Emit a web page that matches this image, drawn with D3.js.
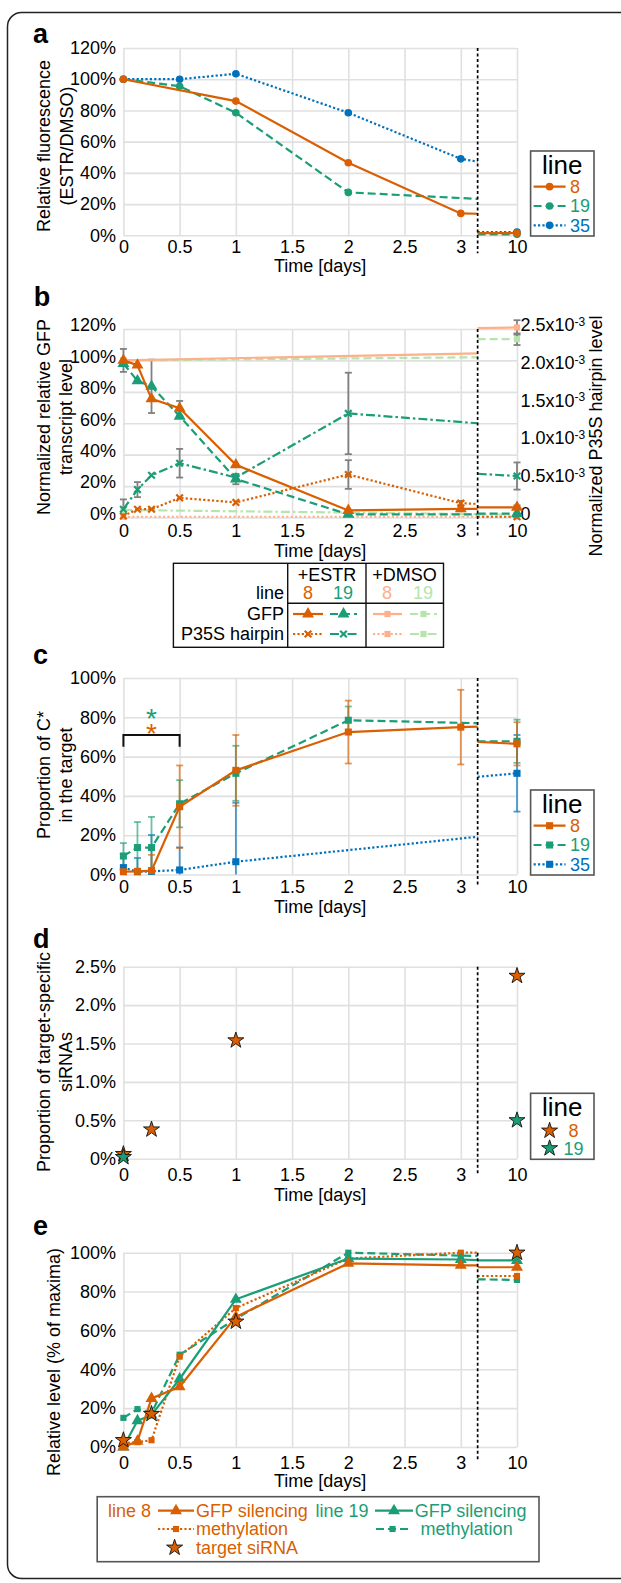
<!DOCTYPE html>
<html>
<head>
<meta charset="utf-8">
<script src="https://cdn.jsdelivr.net/npm/d3@7"></script>
<style>
body { margin: 0; background: #fff; }
svg { display: block; font-family: "Liberation Sans", Arial, sans-serif; }
</style>
</head>
<body>
<script>
const orange = "#d95f02", green = "#1b9e77", blue = "#0072bd";
const lightOrange = "#fdb08a", lightGreen = "#b5e5ad", errGrey = "#808080";
const gridColor = "#e0e0e0";

// shared time axis (day 10 sits after an axis break)
const xTickDays = [0, 0.5, 1, 1.5, 2, 2.5, 3, 10];
const BREAK = 3.15;

// a: relative fluorescence, %
const aDays = [0, 0.5, 1, 2, 3, 10];
const aLine8 = [100, null, 86, 46.5, 14, 1.4];
const aLine19 = [100, 95.5, 78.5, 27.5, null, 0.6];
const aLine35 = [100, 100, 103.5, 78.5, 49, 2];
const aBreak8 = [13.8, 1.4], aBreak19 = [23.3, 0.6], aBreak35 = [47.2, 2];

// b: GFP transcript (%) and P35S hairpin (x10^-3)
const bDays = [0, 0.125, 0.25, 0.5, 1, 2, 3, 10];
const bGfp8 = [100, 97, 75.5, 69.5, 33.5, 4.5, 5.5, 6.5];
const bGfp8Err = [7.3, 0, 0, 4.7, 0, 0, 0, 1.2];
const bGfp19 = [98, 87, 83.5, 64.5, 24.5, 2, null, 2.5];
const bGfp19Err = [0, 0, 17, 0, 3.3, 0, 0, 0];
const bHp8 = [0.02, 0.11, 0.11, 0.26, 0.2, 0.57, 0.19, 0.01];
const bHp8Err = [0, 0, 0, 0, 0, 0.19, 0.03, 0];
const bHp19 = [0.11, 0.37, 0.56, 0.72, 0.53, 1.38, null, 0.55];
const bHp19Err = [0.13, 0.1, 0, 0.19, 0, 0.54, 0, 0.18];
const bBreakGfp8 = [5.5, 6.5], bBreakGfp19 = [2, 2.5], bBreakHp8 = [0.18, 0.01], bBreakHp19 = [1.25, 0.58];
const bDmsoDays = [0, 10];
const bGfp8D = [100, 121], bGfp8DErr = [0, 4.6];
const bGfp19D = [100, 113.5], bGfp19DErr = [0, 3.7];
const bHp8D = [0.01, 0.01];
const bHp19D = [0.1, 0.04];
const bBreakGfp8D = [104.5, 120.5], bBreakGfp19D = [102, 113.5], bBreakHp8D = [0.01, 0.01], bBreakHp19D = [0.045, 0.04];

// c: proportion of C* in the target, %
const cDays = [0, 0.125, 0.25, 0.5, 1, 2, 3, 10];
const c8 = [1.4, 1.6, 2, 34.5, 53, 72.5, 75, 66.5];
const c8Err = [1, 0, 8, 21, 18, 16, 19, 11];
const c19 = [9.4, 13.7, 13.7, 36, 51.5, 78.5, null, 67.8];
const c19Err = [6.6, 13, 15.6, 12, 14, 7, 0, 11];
const c35 = [3.5, 1.4, 1.6, 2.3, 6.5, null, null, 51.5];
const c35Err = [7, 7, 18.5, 11.5, 30, 0, 0, 19.5];
const cBreak8 = [75.3, 67.5], cBreak19 = [77, 67.8], cBreak35 = [19.2, 49.7];

// d: target-specific siRNAs, %
const dDays8 = [0, 0.25, 1, 10], d8 = [0.06, 0.38, 1.54, 2.38];
const dDays19 = [0, 10], d19 = [0.02, 0.5];

// e: relative level, % of maxima
const eDays = [0, 0.125, 0.25, 0.5, 1, 2, 3, 10];
const eGfp8 = [0, 3, 25, 31, 67, 94.5, 93.5, 92.5];
const eGfp19 = [0, 13.5, 16.5, 35, 76, 97, 96.5, 96];
const eMet8 = [2, 2.5, 3.5, 46.5, 71.5, 97, 100, 88];
const eMet19 = [15, 19.5, 17.5, 47.5, 66, 100, 98.5, 86];
const eBreakGfp8 = [93.5, 92.5], eBreakGfp19 = [96.2, 96], eBreakMet8 = [100, 88], eBreakMet19 = [98.3, 86.3];
const eSiDays = [0, 0.25, 1, 10], eSi8 = [3.5, 17, 64.5, 100];

const svg = d3.select("body").append("svg").attr("width", 621).attr("height", 1583);

svg.append("rect")
	.attr("x", 7.5).attr("y", 12.5)
	.attr("width", 660).attr("height", 1566)
	.attr("rx", 14)
	.attr("fill", "none").attr("stroke", "#222").attr("stroke-width", 1.5);

const x = d3.scaleLinear().domain([0, 3.5]).range([123.4, 517]);
const dayPos = d => (d === 10 ? 3.5 : d);

function markerPath(shape) {
	if (shape === "circle") return d3.symbol(d3.symbolCircle, 46)();
	if (shape === "triangle") return d3.symbol(d3.symbolTriangle, 62)();
	if (shape === "square") return d3.symbol(d3.symbolSquare, 50)();
	if (shape === "smallsquare") return d3.symbol(d3.symbolSquare, 38)();
	if (shape === "star") return d3.symbol(d3.symbolStar, 80)();
	if (shape === "x") return "M-3.3,-3.3L3.3,3.3M-3.3,3.3L3.3,-3.3";
}

function addMarker(g, cx, cy, shape, color) {
	const p = g.append("path").attr("d", markerPath(shape)).attr("transform", `translate(${cx},${cy})`);
	if (shape === "x") p.attr("fill", "none").attr("stroke", color).attr("stroke-width", 2.2);
	else if (shape === "star") p.attr("fill", color).attr("stroke", "#111").attr("stroke-width", 0.9);
	else p.attr("fill", color);
	return p;
}

function setupPanel(p) {
	const y = d3.scaleLinear().domain([0, p.ymax]).range([p.bottom, p.top]);
	const g = svg.append("g");
	g.append("g")
		.attr("transform", `translate(0,${p.bottom})`)
		.call(d3.axisBottom(x)
			.tickValues(xTickDays.map(dayPos))
			.tickSize(-(p.bottom - p.top))
			.tickPadding(p.xPad)
			.tickFormat(v => (v === 3.5 ? "10" : String(v))))
		.call(s => {
			s.attr("font-family", null).attr("font-size", 18);
			s.select(".domain").remove();
			s.selectAll("line").attr("stroke", gridColor).attr("stroke-width", 1.6);
			s.selectAll("text").attr("fill", "#000");
		});
	g.append("g")
		.attr("transform", `translate(${x(0)},0)`)
		.call(d3.axisLeft(y)
			.tickValues(p.yTicks)
			.tickSize(-(x(3.5) - x(0)))
			.tickPadding(7.4)
			.tickFormat(p.yFormat))
		.call(s => {
			s.attr("font-family", null).attr("font-size", 18);
			s.select(".domain").remove();
			s.selectAll("line").attr("stroke", gridColor).attr("stroke-width", 1.6);
			s.selectAll("text").attr("fill", "#000").attr("dy", p.yLabelDy || "0.32em");
		});
	g.append("text")
		.attr("x", (x(0) + x(3.5)) / 2).attr("y", p.bottom + p.titleDy)
		.attr("dy", "0.35em").attr("text-anchor", "middle").attr("font-size", 18)
		.text("Time [days]");
	p.yTitle.forEach((t, i) => {
		g.append("text")
			.attr("transform", `translate(${p.yTitleX[i]},${p.yTitleCy}) rotate(-90)`)
			.attr("dy", "0.35em").attr("text-anchor", "middle").attr("font-size", 18)
			.text(t);
	});
	g.append("text")
		.attr("x", p.labelX).attr("y", p.labelY)
		.attr("font-size", 27).attr("font-weight", "bold")
		.text(p.label);
	return { g, y, p };
}

function drawBreak(panel) {
	panel.g.append("line")
		.attr("x1", x(BREAK)).attr("x2", x(BREAK))
		.attr("y1", panel.p.top).attr("y2", panel.p.bottom + panel.p.brkExt)
		.attr("stroke", "#000").attr("stroke-width", 1.7).attr("stroke-dasharray", "3,2.5");
}

function drawErr(g, y, days, vals, err, color, opacity) {
	days.forEach((d, i) => {
		if (vals[i] == null || !err[i]) return;
		const cx = x(dayPos(d));
		const lo = y(Math.max(0, vals[i] - err[i])), hi = y(vals[i] + err[i]);
		const e = g.append("g").attr("stroke", color).attr("stroke-opacity", opacity).attr("stroke-width", 1.8);
		e.append("line").attr("x1", cx).attr("x2", cx).attr("y1", lo).attr("y2", hi);
		e.append("line").attr("x1", cx - 3.5).attr("x2", cx + 3.5).attr("y1", hi).attr("y2", hi);
		if (vals[i] - err[i] > 0) e.append("line").attr("x1", cx - 3.5).attr("x2", cx + 3.5).attr("y1", lo).attr("y2", lo);
	});
}

function drawSeries(g, y, days, vals, brk, color, dash, marker) {
	const pts = days.map((d, i) => [d, vals[i]]).filter(q => q[1] != null);
	const line = d3.line().x(q => x(dayPos(q[0]))).y(q => y(q[1]));
	const left = pts.filter(q => q[0] <= 3).concat([[BREAK, brk[0]]]);
	const right = [[BREAK, brk[1]]].concat(pts.filter(q => q[0] === 10));
	[left, right].forEach(seg => {
		g.append("path").attr("d", line(seg))
			.attr("fill", "none").attr("stroke", color).attr("stroke-width", 2.2)
			.attr("stroke-dasharray", dash);
	});
	pts.forEach(q => addMarker(g, x(dayPos(q[0])), y(q[1]), marker, color));
}

const SOLID = null, DASH = "8,4", DOT = "2.2,2.2", DASHDOT = "9,3,2.5,3";

function lineLegend(top, labels, colors, dashes, marker) {
	const lx = 530.6, w = 63.4, h = labels.length === 3 ? 85 : 66;
	const g = svg.append("g");
	g.append("rect").attr("x", lx).attr("y", top).attr("width", w).attr("height", h)
		.attr("fill", "#fff").attr("stroke", "#555").attr("stroke-width", 1.6);
	g.append("text").attr("x", lx + w / 2).attr("y", top + 23)
		.attr("text-anchor", "middle").attr("font-size", 26).text("line");
	labels.forEach((t, i) => {
		const cy = top + (marker === "star" ? 37.4 : 35.7) + i * (marker === "star" ? 17.6 : 19.3);
		if (marker !== "star") {
			g.append("line").attr("x1", lx + 3).attr("x2", lx + 35).attr("y1", cy).attr("y2", cy)
				.attr("stroke", colors[i]).attr("stroke-width", 2.2).attr("stroke-dasharray", dashes[i]);
			addMarker(g, lx + 19, cy, marker, colors[i]);
			g.append("text").attr("x", lx + 39.5).attr("y", cy).attr("dy", "0.35em")
				.attr("font-size", 18).attr("fill", colors[i]).text(t);
		} else {
			addMarker(g, lx + 19, cy, marker, colors[i]);
			g.append("text").attr("x", lx + 43).attr("y", cy).attr("dy", "0.35em")
				.attr("text-anchor", "middle").attr("font-size", 18).attr("fill", colors[i]).text(t);
		}
	});
}

const pctFmt = v => v + "%";

// ---------- a ----------
const pa = setupPanel({
	top: 48, bottom: 235.3, ymax: 120, yTicks: [0, 20, 40, 60, 80, 100, 120], yFormat: pctFmt,
	xPad: 4.5, titleDy: 30, brkExt: 18,
	yTitle: ["Relative fluorescence", "(ESTR/DMSO)"], yTitleX: [43.6, 67], yTitleCy: 146,
	label: "a", labelX: 33, labelY: 43
});
drawSeries(pa.g, pa.y, aDays, aLine35, aBreak35, blue, DOT, "circle");
drawSeries(pa.g, pa.y, aDays, aLine19, aBreak19, green, DASH, "circle");
drawSeries(pa.g, pa.y, aDays, aLine8, aBreak8, orange, SOLID, "circle");
drawBreak(pa);
lineLegend(151, ["8", "19", "35"], [orange, green, blue], [SOLID, DASH, DOT], "circle");

// ---------- b ----------
const pb = setupPanel({
	top: 329, bottom: 517.5, ymax: 120, yTicks: [0, 20, 40, 60, 80, 100, 120], yFormat: pctFmt,
	yLabelDy: "0.1em",
	xPad: 7, titleDy: 33, brkExt: 20,
	yTitle: ["Normalized relative GFP", "transcript level"], yTitleX: [43.6, 65.5], yTitleCy: 417,
	label: "b", labelX: 33.7, labelY: 306
});
const yR = d3.scaleLinear().domain([0, 2.5]).range([pb.p.bottom, pb.p.top]);
pb.g.append("g")
	.attr("transform", `translate(${x(3.5)},0)`)
	.call(d3.axisRight(yR).tickValues([0, 0.5, 1, 1.5, 2, 2.5]).tickSize(0).tickPadding(3.5).tickFormat(() => ""))
	.call(s => {
		s.attr("font-family", null).attr("font-size", 18);
		s.select(".domain").remove();
		s.selectAll(".tick text").each(function (v) {
			const t = d3.select(this).attr("fill", "#000").attr("dy", "0.1em");
			if (v === 0) { t.text("0"); return; }
			t.append("tspan").text(v.toFixed(1) + "x10");
			t.append("tspan").attr("dy", "-0.45em").attr("font-size", 12).text("-3");
		});
	});
pb.g.append("text")
	.attr("transform", `translate(596,436) rotate(-90)`)
	.attr("dy", "0.35em").attr("text-anchor", "middle").attr("font-size", 18)
	.text("Normalized P35S hairpin level");

drawErr(pb.g, pb.y, bDays, bGfp8, bGfp8Err, errGrey, 1);
drawErr(pb.g, pb.y, bDays, bGfp19, bGfp19Err, errGrey, 1);
drawErr(pb.g, yR, bDays, bHp8, bHp8Err, errGrey, 1);
drawErr(pb.g, yR, bDays, bHp19, bHp19Err, errGrey, 1);
drawErr(pb.g, pb.y, bDmsoDays, bGfp8D, bGfp8DErr, errGrey, 1);
drawErr(pb.g, pb.y, bDmsoDays, bGfp19D, bGfp19DErr, errGrey, 1);
drawSeries(pb.g, yR, bDmsoDays, bHp8D, bBreakHp8D, lightOrange, DOT, "smallsquare");
drawSeries(pb.g, yR, bDmsoDays, bHp19D, bBreakHp19D, lightGreen, DASHDOT, "smallsquare");
drawSeries(pb.g, pb.y, bDmsoDays, bGfp19D, bBreakGfp19D, lightGreen, DASH, "smallsquare");
drawSeries(pb.g, pb.y, bDmsoDays, bGfp8D, bBreakGfp8D, lightOrange, SOLID, "smallsquare");
drawSeries(pb.g, yR, bDays, bHp8, bBreakHp8, orange, DOT, "x");
drawSeries(pb.g, yR, bDays, bHp19, bBreakHp19, green, DASHDOT, "x");
drawSeries(pb.g, pb.y, bDays, bGfp19, bBreakGfp19, green, DASH, "triangle");
drawSeries(pb.g, pb.y, bDays, bGfp8, bBreakGfp8, orange, SOLID, "triangle");
drawBreak(pb);

// legend table for b
(function () {
	const g = svg.append("g");
	const L = 173.4, R = 443.5, T = 563.3, B = 647.3, c1 = 287.7, c2 = 366, mid = 603.3;
	g.append("rect").attr("x", L).attr("y", T).attr("width", R - L).attr("height", B - T)
		.attr("fill", "#fff").attr("stroke", "#111").attr("stroke-width", 1.4);
	[c1, c2].forEach(cx => g.append("line").attr("x1", cx).attr("x2", cx).attr("y1", T).attr("y2", B)
		.attr("stroke", "#111").attr("stroke-width", 1.4));
	g.append("line").attr("x1", c1).attr("x2", R).attr("y1", mid).attr("y2", mid)
		.attr("stroke", "#111").attr("stroke-width", 1.4);
	const txt = (tx, ty, s, color, anchor) => g.append("text").attr("x", tx).attr("y", ty)
		.attr("dy", "0.35em").attr("font-size", 18).attr("fill", color || "#000")
		.attr("text-anchor", anchor || "middle").text(s);
	txt(327, 575, "+ESTR");
	txt(404.5, 575, "+DMSO");
	txt(284, 593, "line", null, "end");
	txt(308, 593, "8", orange);
	txt(343, 593, "19", green);
	txt(387, 593, "8", lightOrange);
	txt(423, 593, "19", lightGreen);
	txt(284, 613.5, "GFP", null, "end");
	txt(284, 633.5, "P35S hairpin", null, "end");
	const sample = (x1, x2, cy, color, dash, marker) => {
		g.append("line").attr("x1", x1).attr("x2", x2).attr("y1", cy).attr("y2", cy)
			.attr("stroke", color).attr("stroke-width", 2.2).attr("stroke-dasharray", dash);
		addMarker(g, (x1 + x2) / 2, cy, marker, color);
	};
	sample(293, 323, 614, orange, SOLID, "triangle");
	sample(330, 357, 614, green, DASH, "triangle");
	sample(373, 402, 614, lightOrange, SOLID, "smallsquare");
	sample(410, 437, 614, lightGreen, DASH, "smallsquare");
	sample(293, 323, 634, orange, DOT, "x");
	sample(330, 357, 634, green, DASHDOT, "x");
	sample(373, 402, 634, lightOrange, DOT, "smallsquare");
	sample(410, 437, 634, lightGreen, DASHDOT, "smallsquare");
})();

// ---------- c ----------
const pc = setupPanel({
	top: 678, bottom: 874.5, ymax: 100, yTicks: [0, 20, 40, 60, 80, 100], yFormat: pctFmt,
	xPad: 5.5, titleDy: 32, brkExt: 12,
	yTitle: ["Proportion of C*", "in the target"], yTitleX: [43.6, 65.5], yTitleCy: 775,
	label: "c", labelX: 33, labelY: 664
});
drawErr(pc.g, pc.y, cDays, c35, c35Err, blue, 0.7);
drawErr(pc.g, pc.y, cDays, c19, c19Err, green, 0.65);
drawErr(pc.g, pc.y, cDays, c8, c8Err, orange, 0.65);
drawSeries(pc.g, pc.y, cDays, c35, cBreak35, blue, DOT, "square");
drawSeries(pc.g, pc.y, cDays, c19, cBreak19, green, DASH, "square");
drawSeries(pc.g, pc.y, cDays, c8, cBreak8, orange, SOLID, "square");
drawBreak(pc);
pc.g.append("path")
	.attr("d", `M${x(0)},746.7V735H${x(0.5)}V746.7`)
	.attr("fill", "none").attr("stroke", "#111").attr("stroke-width", 2);
// significance marks, one per line, stacked in a single text
const stars = pc.g.append("text").attr("text-anchor", "middle").attr("font-size", 28);
stars.append("tspan").attr("x", x(0.25)).attr("y", 728).attr("fill", green).text("*");
stars.append("tspan").attr("x", x(0.25)).attr("y", 743).attr("fill", orange).text("*");
lineLegend(790, ["8", "19", "35"], [orange, green, blue], [SOLID, DASH, DOT], "square");

// ---------- d ----------
const pd = setupPanel({
	top: 966.7, bottom: 1158.7, ymax: 2.5, yTicks: [0, 0.5, 1, 1.5, 2, 2.5],
	yFormat: v => (v === 0 ? "0%" : v.toFixed(1) + "%"),
	xPad: 9.5, titleDy: 35.5, brkExt: 15,
	yTitle: ["Proportion of target-specific", "siRNAs"], yTitleX: [43.6, 65.5], yTitleCy: 1062,
	label: "d", labelX: 33, labelY: 948
});
drawBreak(pd);
dDays8.forEach((d, i) => addMarker(pd.g, x(dayPos(d)), pd.y(d8[i]), "star", orange));
dDays19.forEach((d, i) => addMarker(pd.g, x(dayPos(d)), pd.y(d19[i]), "star", green));
lineLegend(1093.3, ["8", "19"], [orange, green], [null, null], "star");

// ---------- e ----------
const pe = setupPanel({
	top: 1252.7, bottom: 1447, ymax: 100, yTicks: [0, 20, 40, 60, 80, 100], yFormat: pctFmt,
	xPad: 9.5, titleDy: 34, brkExt: 13,
	yTitle: ["Relative level (% of maxima)"], yTitleX: [53.6], yTitleCy: 1362,
	label: "e", labelX: 33, labelY: 1235
});
drawSeries(pe.g, pe.y, eDays, eMet19, eBreakMet19, green, DASH, "smallsquare");
drawSeries(pe.g, pe.y, eDays, eMet8, eBreakMet8, orange, DOT, "smallsquare");
drawSeries(pe.g, pe.y, eDays, eGfp19, eBreakGfp19, green, SOLID, "triangle");
drawSeries(pe.g, pe.y, eDays, eGfp8, eBreakGfp8, orange, SOLID, "triangle");
eSiDays.forEach((d, i) => addMarker(pe.g, x(dayPos(d)), pe.y(eSi8[i]), "star", orange));
drawBreak(pe);

// legend for e
(function () {
	const g = svg.append("g");
	g.append("rect").attr("x", 97.2).attr("y", 1496.7).attr("width", 441.8).attr("height", 65)
		.attr("fill", "#fff").attr("stroke", "#555").attr("stroke-width", 1.6);
	const txt = (tx, ty, s, color) => g.append("text").attr("x", tx).attr("y", ty)
		.attr("dy", "0.35em").attr("font-size", 18).attr("fill", color).text(s);
	const sample = (x1, x2, cy, color, dash, marker) => {
		g.append("line").attr("x1", x1).attr("x2", x2).attr("y1", cy).attr("y2", cy)
			.attr("stroke", color).attr("stroke-width", 2.2).attr("stroke-dasharray", dash);
		addMarker(g, (x1 + x2) / 2, cy, marker, color);
	};
	txt(108, 1510.7, "line 8", orange);
	sample(158, 194, 1510.7, orange, SOLID, "triangle");
	txt(196, 1510.7, "GFP silencing", orange);
	txt(315.5, 1510.7, "line 19", green);
	sample(375, 413, 1510.7, green, SOLID, "triangle");
	txt(414.7, 1510.7, "GFP silencing", green);
	sample(158, 194, 1529, orange, DOT, "smallsquare");
	txt(196, 1529, "methylation", orange);
	sample(376, 409, 1529, green, DASH, "smallsquare");
	txt(420.6, 1529, "methylation", green);
	addMarker(g, 174.6, 1547.7, "star", orange);
	txt(196, 1547.7, "target siRNA", orange);
})();
</script>
</body>
</html>
